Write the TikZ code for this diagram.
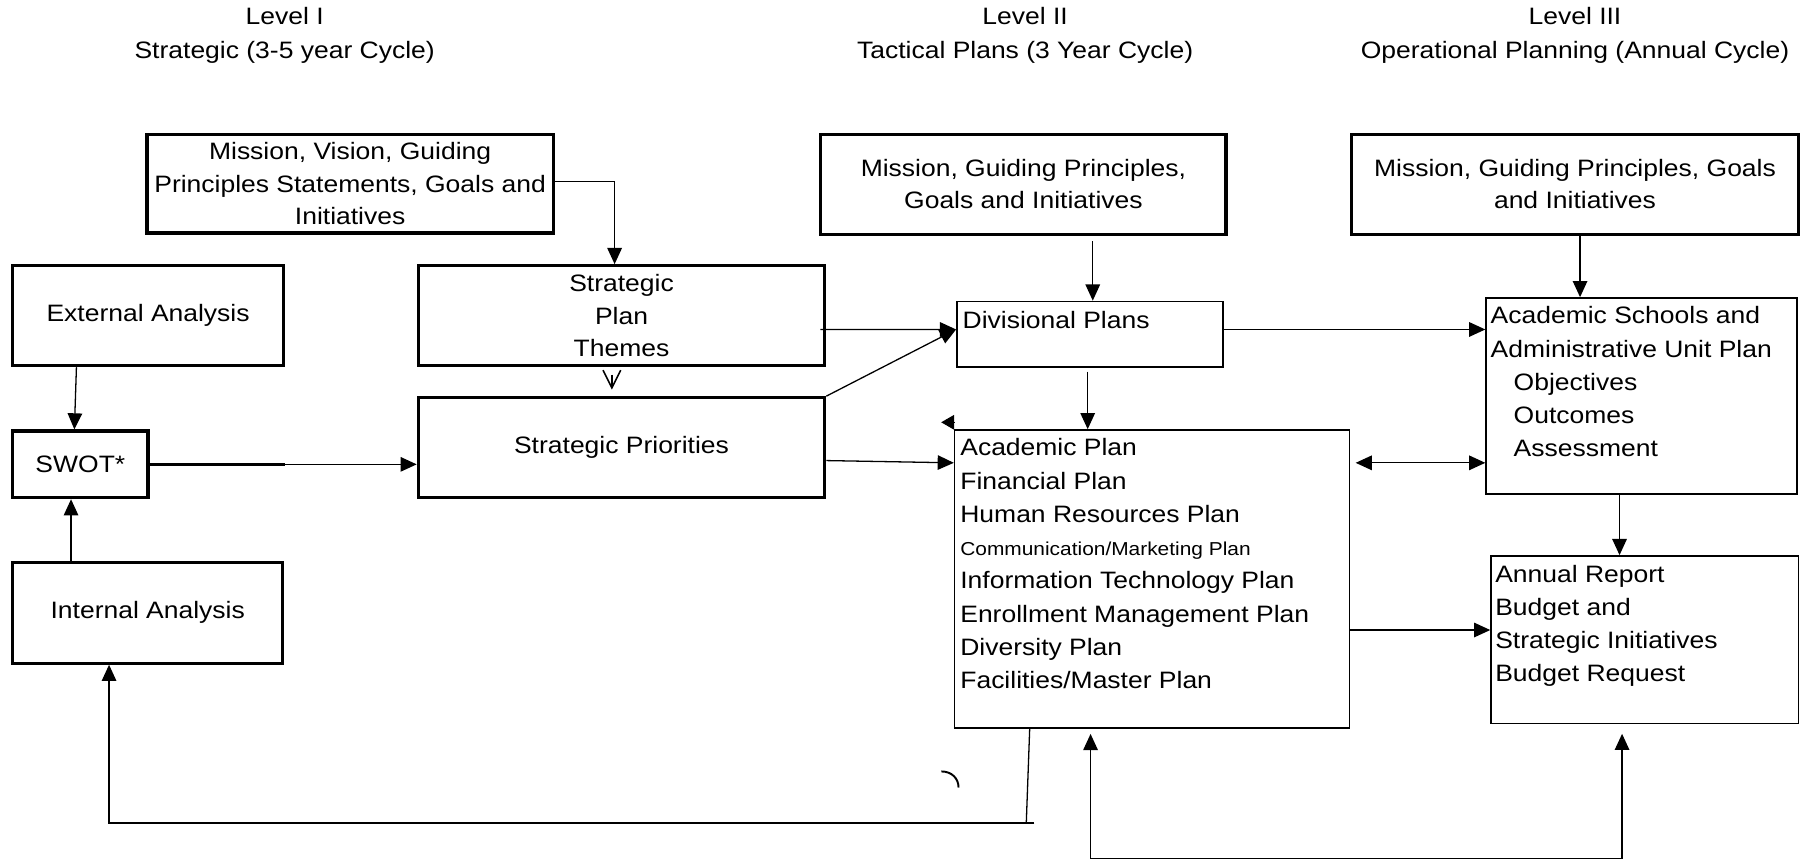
\documentclass[tikz,border=0pt]{standalone}
\usepackage{fontspec}
\setmainfont{Liberation Sans}[FakeStretch=1.116]
\usetikzlibrary{arrows.meta,positioning,calc}

\begin{document}
\begin{tikzpicture}[x=0.025cm,y=-0.025cm,>={Triangle[length=10pt,width=9pt]},line width=0.8pt,
    every node/.style={font=\fontsize{14.7}{20}\selectfont},
    bigbox/.style args={#1/#2}{draw,line width=2pt,minimum width=#1*0.025cm,minimum height=#2*0.025cm,align=center,inner sep=0pt},
    smallbox/.style args={#1/#2}{draw,line width=0.9pt,minimum width=#1*0.025cm,minimum height=#2*0.025cm,inner sep=0pt},
    listtext/.style={anchor=north west,align=left,inner sep=0pt,font=\fontsize{14.7}{20.6}\selectfont},
    leveltext/.style={align=center,font=\fontsize{14.7}{21.3}\selectfont}]

    \fill[white] (0,0) rectangle (1568,750);

    % level headings
    \node[leveltext] (levelone) at (248,31) {Level I\\Strategic (3-5 year Cycle)};
    \node[leveltext] (leveltwo) at (893,31) {Level II\\Tactical Plans (3 Year Cycle)};
    \node[leveltext] (levelthree) at (1372,31) {Level III\\Operational Planning (Annual Cycle)};

    % level I
    \node[bigbox=354/86] (mission1) at (305,160) {Mission, Vision, Guiding\\Principles Statements, Goals and\\Initiatives};
    \node[bigbox=236/87] (external) at (129,275) {External Analysis};
    \node[bigbox=118/58] (swot) at (70,404.5) {SWOT*};
    \node[bigbox=235/88] (internal) at (128.7,533.7) {Internal Analysis};
    \node[bigbox=354/87] (themes) at (541.4,275) {Strategic\\Plan\\Themes};
    \node[bigbox=354/87] (priorities) at (541.4,390) {Strategic Priorities};

    % level II
    \node[bigbox=353/87] (mission2) at (891.5,160.5) {Mission, Guiding Principles,\\Goals and Initiatives};
    \node[smallbox=232/57] (divisional) at (949.5,291) {};
    \node[listtext] (divisionaltext) at (838,270.6) {Divisional Plans};
    \node[smallbox=344/259] (acadplan) at (1003.5,504) {};
    \node[listtext] (acadplantext) at (836,381.6) {Academic Plan\\Financial Plan\\Human Resources Plan\\{\fontsize{11.6}{20.6}\selectfont Communication/Marketing Plan}\\Information Technology Plan\\Enrollment Management Plan\\Diversity Plan\\Facilities/Master Plan};
    \draw[line width=1.6pt] (acadplan.south west) -- (acadplan.south east);

    % level III
    \node[bigbox=389/87] (mission3) at (1372,160.5) {Mission, Guiding Principles, Goals\\and Initiatives};
    \node[smallbox=271/171] (schools) at (1430,345) {};
    \node[listtext] (schoolstext) at (1298,266.6) {Academic Schools and\\Administrative Unit Plan\\\hspace*{0.5cm}Objectives\\\hspace*{0.5cm}Outcomes\\\hspace*{0.5cm}Assessment};
    \node[smallbox=268/146] (annual) at (1432.8,557.2) {};
    \node[listtext] (annualtext) at (1302,491.6) {Annual Report\\Budget and\\Strategic Initiatives\\Budget Request};

    % connectors level I
    \draw[->] ([yshift=0.05cm]mission1.east) -| ([xshift=-0.15cm]themes.north);
    \draw[line width=1pt,-{Straight Barb[length=11pt,width=11pt]}] ([shift={(-0.21cm,-0.16cm)}]themes.south) -- ([shift={(-0.21cm,0.14cm)}]priorities.north);
    \draw[->] ([xshift=-1.56cm]external.south) -- ([xshift=-0.13cm]swot.north);
    \draw[->] ([xshift=-1.67cm]internal.north) -- ([xshift=-1.67cm]internal.north |- swot.south);
    \draw[line width=2pt] (swot.east) -- ++(118,0);
    \draw[->] (swot.east) -- (swot.east -| priorities.west);

    % connectors level I to II
    \draw[->] ([shift={(-0.13cm,-0.3cm)}]themes.east) -- ([yshift=0.1cm]divisional.west);
    \draw[->] (priorities.north east) -- ([yshift=0.1cm]divisional.west);
    \draw[->] ([yshift=-0.28cm]priorities.east) -- ([yshift=2.52cm]acadplan.west);

    % connectors level II and III
    \draw[->] ([shift={(1.51cm,-0.12cm)}]mission2.south) -- ([xshift=1.51cm]mission2.south |- divisional.north);
    \draw[->] ([shift={(-0.05cm,-0.09cm)}]divisional.south) -- ([xshift=-0.05cm]divisional.south |- acadplan.north);
    \draw[-{Triangle[length=8pt,width=9pt]}] ([yshift=0.15cm]acadplan.north west) -- ++(-11,0);
    \draw[->] ([xshift=0.11cm]mission3.south) -- ([xshift=0.11cm]mission3.south |- schools.north);
    \draw[->] ([yshift=0.1cm]divisional.east) -- ([yshift=0.1cm]divisional.east -| schools.west);
    \draw[<->] ([shift={(0.12cm,2.52cm)}]acadplan.east) -- ([yshift=2.52cm]acadplan.east -| schools.west);
    \draw[->] ([xshift=-0.48cm]schools.south) -- ([xshift=-0.48cm]schools.south |- annual.north);
    \draw[->] ([yshift=-1.12cm]acadplan.east) -- ([yshift=-1.12cm]acadplan.east -| annual.west);

    % feedback loops
    \coordinate (loopL) at (95,717);
    \coordinate (loopM) at (894,717);
    \coordinate (loopR) at (901,717);
    \draw ([xshift=0.075cm]loopM |- acadplan.south) -- (loopM);
    \draw[->] (loopR) -- (loopL) -- (loopL |- internal.south);
    \draw[line width=1.2pt] (820,672) .. controls (829,672) and (835,678) .. (835,686);

    \coordinate (baseL) at (950,748);
    \coordinate (baseR) at (1413,748);
    \draw[<->] ([yshift=-0.13cm]baseL |- acadplan.south) -- (baseL) -- (baseR) -- ([yshift=-0.21cm]baseR |- annual.south);

\end{tikzpicture}
\end{document}
